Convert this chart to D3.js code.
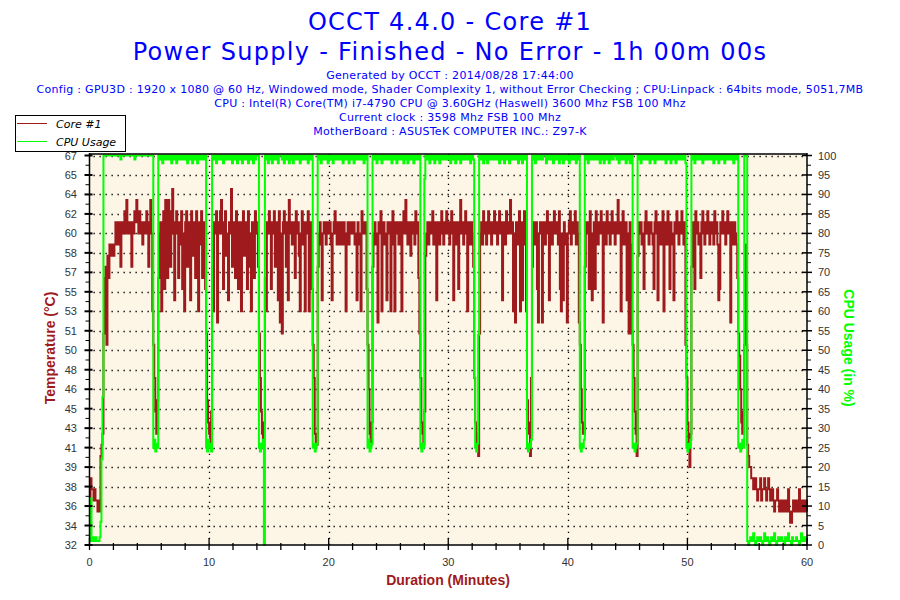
<!DOCTYPE html>
<html><head><meta charset="utf-8">
<script src="https://cdn.jsdelivr.net/npm/d3@7"></script>
<style>
body{margin:0;background:#fff;}
svg{display:block;}
</style></head><body>
<svg id="c" width="900" height="600"></svg>
<script>
// ---------------- data ----------------
const titleLines = ["OCCT 4.4.0 - Core #1", "Power Supply - Finished - No Error - 1h 00m 00s"];
const infoLines = [
  "Generated by OCCT : 2014/08/28 17:44:00",
  "Config : GPU3D : 1920 x 1080 @ 60 Hz, Windowed mode, Shader Complexity 1, without Error Checking ; CPU:Linpack : 64bits mode, 5051,7MB",
  "CPU : Intel(R) Core(TM) i7-4790 CPU @ 3.60GHz (Haswell) 3600 Mhz FSB 100 Mhz",
  "Current clock : 3598 Mhz FSB 100 Mhz",
  "MotherBoard : ASUSTeK COMPUTER INC.: Z97-K"
];
const seriesNames = ["Core #1", "CPU Usage"];
const axisTitles = ["Temperature (°C)", "CPU Usage (in %)", "Duration (Minutes)"];
const tempTickLabels = [32,34,36,38,39,41,43,45,46,48,50,51,53,55,57,58,60,62,64,65,67];
const cpuTickLabels = [0,5,10,15,20,25,30,35,40,45,50,55,60,65,70,75,80,85,90,95,100];
const xTickLabels = [0,10,20,30,40,50,60];
const sampleSeconds = 5;

// Core #1 temperature (°C), one row per minute, 12 samples per row
const coreTemp = [
 36,38,37,37,36,37,36,36,35,36,35,40,
 41,42,51,56,57,50,58,56,59,58,58,59,
 58,59,61,60,59,61,60,57,61,60,61,62,
 60,63,61,60,61,60,57,61,60,62,61,63,
 61,60,62,60,61,59,60,61,60,62,61,57,
 61,63,60,53,50,47,44,42,45,56,60,61,
 53,61,62,55,63,60,56,63,61,57,62,64,
 60,54,61,62,60,56,61,59,62,55,60,53,
 61,62,57,60,61,54,62,60,58,61,56,62,
 60,53,61,59,62,56,60,61,55,51,45,43,
 42,41,44,57,53,61,60,62,52,61,60,62,
 63,60,55,61,62,58,60,54,61,60,64,57,
 61,60,56,62,60,55,61,59,53,61,62,58,
 60,61,55,62,60,57,53,61,60,56,62,61,
 60,57,51,47,44,42,41,43,56,53,61,60,
 62,60,55,61,60,62,57,61,60,54,62,52,
 60,51,61,62,60,57,61,54,63,60,61,59,
 61,60,56,62,60,61,58,53,60,62,59,61,
 53,61,60,62,53,60,61,55,50,47,42,41,
 41,57,60,61,59,54,60,61,60,59,61,60,
 60,61,59,54,60,61,62,60,59,61,60,59,
 61,60,59,61,60,53,60,61,59,60,61,60,
 60,61,59,60,54,61,60,59,53,62,60,61,
 60,61,55,50,46,42,41,43,57,60,61,59,
 60,52,61,60,62,53,60,61,59,60,54,61,
 60,61,53,60,62,59,53,61,60,61,59,60,
 61,53,60,62,60,63,61,59,60,61,58,60,
 61,60,59,62,60,61,56,51,47,43,42,41,
 44,58,60,61,59,60,61,60,62,59,60,61,
 54,60,61,59,60,62,60,59,61,60,62,60,
 61,59,60,62,60,54,61,60,59,61,55,60,
 63,60,61,59,60,62,61,53,60,61,59,61,
 60,57,47,43,41,42,40,51,60,61,59,62,
 60,61,59,60,62,61,60,59,61,60,62,61,
 60,59,61,62,60,61,54,60,61,59,62,60,
 61,60,63,60,61,53,60,52,61,59,60,62,
 53,61,54,60,62,59,53,45,43,42,40,47,
 57,61,60,59,61,55,52,60,61,60,52,61,
 60,59,61,62,60,54,61,60,59,61,62,60,
 61,60,59,62,55,53,60,54,61,60,59,52,
 60,61,62,59,60,61,60,62,59,61,60,52,
 50,46,43,42,42,57,61,60,61,55,62,60,
 54,60,61,55,62,60,59,61,60,62,61,52,
 60,61,59,62,60,61,59,60,62,61,60,59,
 61,60,63,61,60,53,61,62,59,60,61,54,
 60,51,61,59,51,50,47,44,42,40,58,61,
 60,61,59,60,55,61,62,60,61,59,60,61,
 60,59,55,61,62,60,54,61,60,59,61,62,
 53,60,61,59,62,60,55,61,60,59,54,61,
 60,62,61,59,60,61,62,60,59,61,50,47,
 43,41,39,42,57,61,60,55,62,60,61,59,
 60,56,61,62,60,59,61,60,62,61,59,60,
 61,60,59,62,60,61,59,54,55,61,60,62,
 60,61,59,60,62,61,60,52,61,60,59,61,
 60,59,56,51,49,46,43,42,44,50,59,50,
 41,40,39,39,38,38,37,37,38,37,36,37,
 37,38,36,37,37,38,37,36,37,38,37,36,
 36,37,36,35,36,36,37,36,35,36,36,35,
 36,35,36,35,36,37,35,34,34,35,36,35,
 36,35,35,36,37,35,36,35,36,36,35,36,
 35
];

// CPU usage (%), one row per minute, 12 samples per row
const cpuUsage = [
 1,12,1,2,1,1,2,1,1,1,2,6,
 22,38,100,100,100,100,100,100,100,100,100,100,
 100,100,100,100,100,100,100,99,100,100,100,100,
 100,100,100,100,100,100,100,100,100,99,100,100,
 100,100,100,100,100,100,100,100,100,100,100,100,
 100,100,100,100,25,27,24,26,25,100,99,100,
 100,98,100,99,100,100,99,100,99,100,98,100,
 99,100,100,98,100,99,100,100,99,100,99,100,
 100,99,98,100,100,99,100,98,100,100,99,100,
 98,100,99,100,100,99,100,99,100,25,24,27,
 26,25,24,100,99,100,100,98,100,99,100,100,
 99,100,98,100,100,99,100,99,100,99,100,98,
 100,99,100,100,98,100,99,100,100,98,100,99,
 100,100,99,98,100,100,99,100,98,100,99,100,
 100,100,25,24,26,25,27,0,100,99,100,98,
 99,100,100,98,100,99,100,100,99,98,100,100,
 100,99,100,98,100,100,99,100,98,100,99,100,
 98,100,99,100,100,99,100,98,100,100,99,100,
 100,99,100,98,100,100,99,100,25,26,24,25,
 26,100,99,100,98,100,100,99,100,99,100,98,
 100,99,100,100,98,100,99,100,100,99,100,99,
 99,100,98,100,100,99,100,100,98,100,99,100,
 100,98,100,99,100,100,99,100,99,100,100,98,
 100,99,100,25,27,24,25,26,100,99,100,100,
 98,100,99,100,100,98,100,99,100,100,99,100,
 100,99,100,98,100,100,99,100,98,100,99,100,
 99,100,100,98,100,99,100,98,100,100,99,100,
 100,98,100,99,100,100,99,100,25,24,26,25,
 94,100,99,100,100,98,100,99,100,100,98,100,
 99,100,100,98,100,99,100,100,99,100,99,100,
 100,99,98,100,100,99,100,98,100,99,100,100,
 98,100,99,100,100,99,100,99,100,100,98,100,
 100,99,43,25,24,26,54,100,99,100,100,98,
 100,99,100,98,100,100,99,100,99,100,99,100,
 99,100,100,98,100,99,100,100,98,100,99,100,
 100,98,100,99,100,100,99,100,99,100,98,100,
 99,100,98,100,100,99,100,25,24,26,25,27,
 100,99,100,98,100,100,99,100,99,100,99,100,
 100,100,98,100,99,100,100,99,100,98,100,99,
 99,100,100,98,100,99,100,98,100,100,99,100,
 100,98,100,99,100,100,99,100,98,100,99,100,
 25,24,26,25,27,100,99,100,98,100,100,99,
 100,99,100,100,99,100,99,100,98,100,100,99,
 98,100,99,100,100,98,100,99,100,99,100,100,
 100,99,100,98,100,100,99,100,99,100,98,100,
 99,100,98,100,100,25,26,24,25,26,100,99,
 100,98,100,99,100,100,99,100,99,100,98,100,
 99,100,100,98,100,99,100,99,100,100,99,100,
 100,99,98,100,100,99,100,98,100,99,100,100,
 98,100,99,100,100,99,100,99,100,100,98,25,
 24,26,25,27,100,99,100,98,100,100,99,100,
 100,99,100,98,100,100,99,100,99,100,99,100,
 99,100,98,100,100,99,100,98,100,100,99,100,
 100,98,100,99,100,99,100,100,99,100,98,100,
 99,100,100,25,26,24,25,27,25,100,100,100,
 1,0,1,2,1,1,3,1,0,1,2,1,
 1,2,1,0,1,3,1,1,2,1,0,1,
 2,1,1,3,1,0,1,2,1,1,2,1,
 1,0,2,1,1,3,1,1,0,2,1,1,
 1,2,1,1,0,1,3,1,2,1,1,2,
 1
];

// ---------------- drawing ----------------
const TEMP_COLOR = "#9e1a1c", CPU_COLOR = "#00ff00", TITLE_COLOR = "#0000ff";
const NARROW = "'Liberation Sans Narrow','Arial Narrow',Arial,sans-serif";
const VERD = "'DejaVu Sans',Verdana,sans-serif";
const svg = d3.select("#c");
const L = 89.5, R = 807, T = 155.5, B = 545;

const x = d3.scaleLinear().domain([0, 60]).range([L, R]);
const yT = d3.scaleLinear().domain([32, 67]).range([B, T]);
const yC = d3.scaleLinear().domain([0, 100]).range([B, T]);
const tOf = i => i * sampleSeconds / 60;

// titles
svg.selectAll("text.title").data(titleLines).join("text")
  .attr("x", 450).attr("y", (d, i) => 30 + i * 30)
  .attr("text-anchor", "middle").attr("fill", TITLE_COLOR)
  .style("font-family", VERD).style("font-size", "24px").style("letter-spacing", "1.3px").text(d => d);
svg.selectAll("text.info").data(infoLines).join("text")
  .attr("x", 450).attr("y", (d, i) => 79 + i * 14)
  .attr("text-anchor", "middle").attr("fill", TITLE_COLOR)
  .style("font-family", VERD).style("font-size", "11px").style("letter-spacing", "0.28px").text(d => d);

// plot background
svg.append("rect").attr("x", L).attr("y", 154).attr("width", R - L).attr("height", B - 154)
  .attr("fill", "#fdf5e6");

// dotted grid
const tempTickVals = tempTickLabels.map((d, k) => 32 + k * 35 / 20);
const grid = svg.append("g").attr("stroke", "#000").attr("stroke-width", 1.3).attr("stroke-dasharray", "1.3,4.7");
grid.selectAll("line.h").data(tempTickVals.slice(1)).join("line")
  .attr("x1", L + 4).attr("x2", R).attr("y1", d => Math.round(yT(d)) + 0.5).attr("y2", d => Math.round(yT(d)) + 0.5);
grid.selectAll("line.v").data(xTickLabels.slice(1, -1)).join("line")
  .attr("y1", B).attr("y2", 154).attr("x1", d => Math.round(x(d)) + 0.5).attr("x2", d => Math.round(x(d)) + 0.5);

// series
const tempLine = d3.line().x((d, i) => x(tOf(i))).y(d => yT(d)).curve(d3.curveStepAfter);
const cpuLine = d3.line().x((d, i) => x(tOf(i))).y(d => yC(d)).curve(d3.curveStepAfter);
svg.append("path").datum(coreTemp).attr("d", tempLine).attr("fill", "none")
  .attr("stroke", TEMP_COLOR).attr("stroke-width", 2).attr("stroke-linejoin", "miter");
svg.append("path").datum(cpuUsage).attr("d", cpuLine).attr("fill", "none")
  .attr("stroke", CPU_COLOR).attr("stroke-width", 2).attr("stroke-linejoin", "miter");

// frame top line
svg.append("line").attr("x1", L).attr("x2", R).attr("y1", 154).attr("y2", 154).attr("stroke", "#000").attr("stroke-width", 1.5);

// axes
const halfSteps = d3.range(41).map(k => k / 2);
const axL = svg.append("g");
axL.append("line").attr("x1", L).attr("x2", L).attr("y1", 153).attr("y2", B).attr("stroke", "#000").attr("stroke-width", 1.5);
axL.selectAll("line.t").data(halfSteps).join("line")
  .attr("x1", (d) => d % 1 === 0 ? L - 5 : L - 4).attr("x2", d => d % 1 === 0 ? L + 3 : L)
  .attr("y1", d => yC(d * 5)).attr("y2", d => yC(d * 5))
  .attr("stroke", "#000").attr("stroke-width", d => d % 1 === 0 ? 2 : 1);
axL.selectAll("text").data(tempTickLabels).join("text")
  .attr("x", 77).attr("y", (d, k) => yT(tempTickVals[k]) + 4)
  .attr("text-anchor", "end").attr("fill", "#333")
  .style("font-family", NARROW).style("font-size", "11px").text(d => d);

const axR = svg.append("g");
axR.append("line").attr("x1", R).attr("x2", R).attr("y1", 153).attr("y2", B).attr("stroke", "#000").attr("stroke-width", 1.5);
axR.selectAll("line.t").data(halfSteps).join("line")
  .attr("x1", d => d % 1 === 0 ? R - 5 : R).attr("x2", d => d % 1 === 0 ? R + 5 : R + 4)
  .attr("y1", d => yC(d * 5)).attr("y2", d => yC(d * 5))
  .attr("stroke", "#000").attr("stroke-width", d => d % 1 === 0 ? 1.5 : 1);
axR.selectAll("text").data(cpuTickLabels).join("text")
  .attr("x", 818).attr("y", d => yC(d) + 4)
  .attr("fill", "#333").style("font-family", NARROW).style("font-size", "11px").text(d => d);

const axB = svg.append("g");
axB.append("line").attr("x1", L).attr("x2", R).attr("y1", B).attr("y2", B).attr("stroke", "#000").attr("stroke-width", 1.5);
axB.selectAll("line.t").data(d3.range(0, 61, 2)).join("line")
  .attr("x1", d => x(d)).attr("x2", d => x(d))
  .attr("y1", d => d % 10 === 0 ? B - 7 : B - 2).attr("y2", B + 5)
  .attr("stroke", "#000").attr("stroke-width", 1.3);
axB.selectAll("text").data(xTickLabels).join("text")
  .attr("x", d => x(d)).attr("y", 566).attr("text-anchor", "middle")
  .attr("fill", "#333").style("font-family", NARROW).style("font-size", "11px").text(d => d);

// axis titles
svg.append("text").attr("transform", "translate(55,348) rotate(-90)").attr("text-anchor", "middle")
  .attr("fill", TEMP_COLOR).style("font-family", NARROW).style("font-weight", "bold").style("font-size", "14px").text(axisTitles[0]);
svg.append("text").attr("transform", "translate(844,348) rotate(90)").attr("text-anchor", "middle")
  .attr("fill", CPU_COLOR).style("font-family", NARROW).style("font-weight", "bold").style("font-size", "14px").text(axisTitles[1]);
svg.append("text").attr("x", 448).attr("y", 585).attr("text-anchor", "middle")
  .attr("fill", TEMP_COLOR).style("font-family", NARROW).style("font-weight", "bold").style("font-size", "14px").text(axisTitles[2]);

// legend
const lg = svg.append("g");
lg.append("rect").attr("x", 15.5).attr("y", 115.5).attr("width", 110).attr("height", 36)
  .attr("fill", "#fff").attr("stroke", "#000").attr("stroke-width", 1);
const lgColors = [TEMP_COLOR, CPU_COLOR];
seriesNames.forEach((name, i) => {
  const yy = 123.5 + i * 18;
  lg.append("line").attr("x1", 17).attr("x2", 47).attr("y1", yy).attr("y2", yy).attr("stroke", lgColors[i]).attr("stroke-width", 1);
  lg.append("text").attr("x", 56).attr("y", yy + 4).attr("fill", "#000")
    .style("font-family", VERD).style("font-style", "italic").style("font-size", "11px").text(name);
});
</script>
</body></html>
